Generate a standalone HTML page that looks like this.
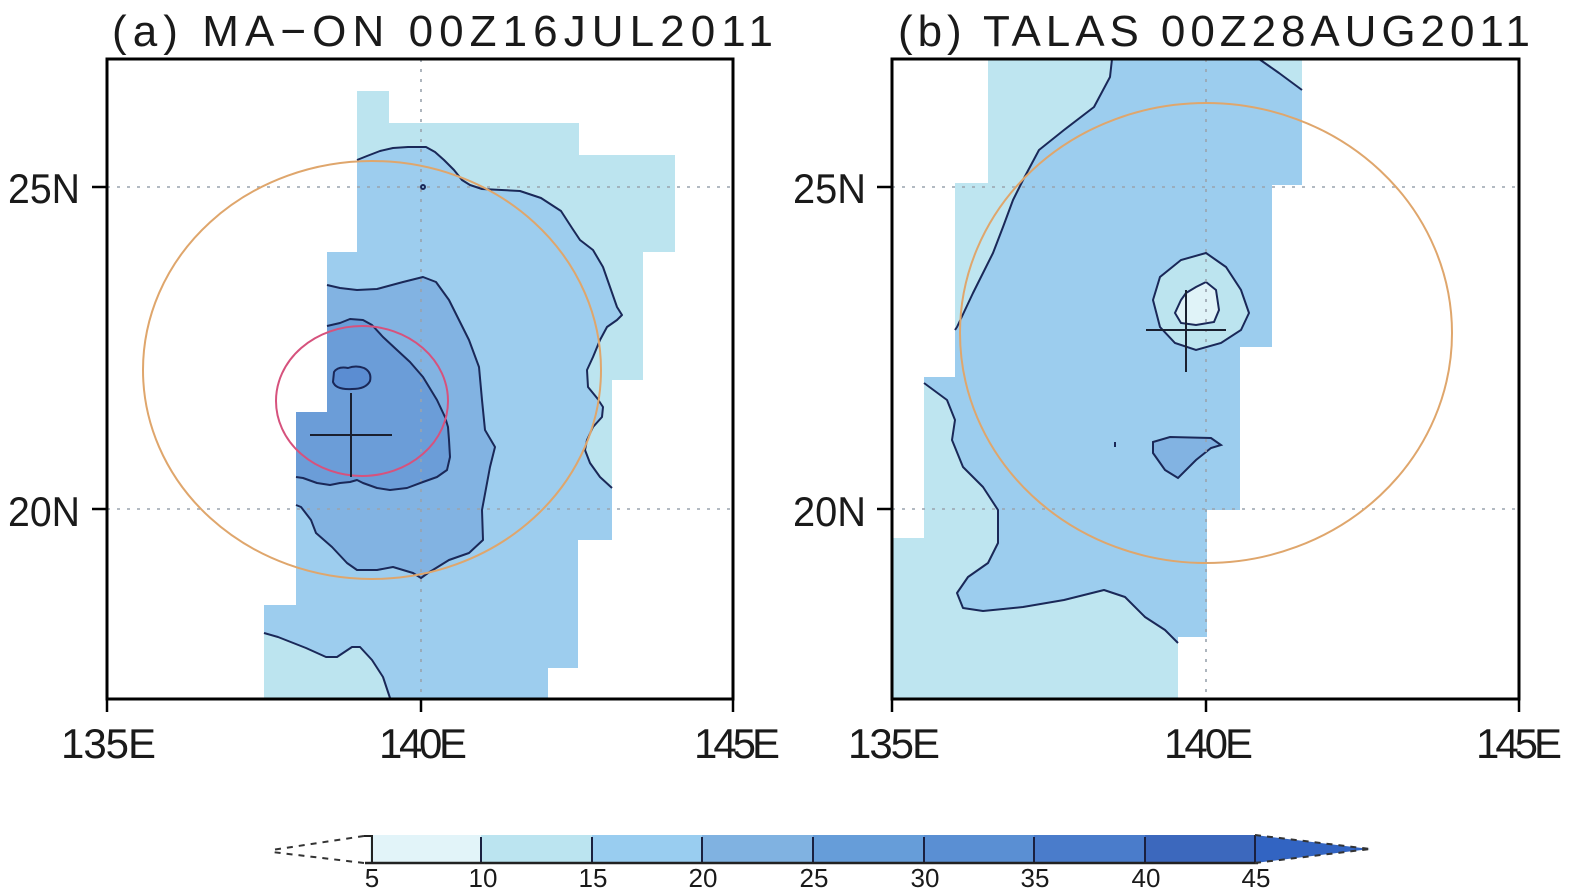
<!DOCTYPE html>
<html><head><meta charset="utf-8"><style>
html,body{margin:0;padding:0;background:#fff;}
svg{display:block;}
text{font-family:"Liberation Sans",sans-serif;fill:#1a1a1a;}
</style></head><body>
<svg width="1575" height="892" viewBox="0 0 1575 892" xmlns="http://www.w3.org/2000/svg">
<rect width="1575" height="892" fill="#fff"/>

<!-- ============ PANEL A ============ -->
<polygon fill="#bce4ef" points="357,91 389,91 389,123 579,123 579,155 675,155 675,252 643,252 643,380 612,380 612,540 578,540 578,668 548,668 548,699 264,699 264,605 296,605 296,412 327,412 327,252 357,252"/>
<path fill="#9dcdee" d="M357,160 L367,156 L380,151 L393,148 L408,147 L426,147 L435,152 L444,160 L454,170 L462,180 L470,185 L482,189 L520,191 L541,198 L561,211 L572,228 L580,240 L593,250 L603,267 L610,287 L617,307 L622,315 L617,320 L607,327 L600,340 L593,357 L587,370 L588,387 L597,398 L603,407 L602,417 L593,427 L587,440 L585,450 L590,463 L600,477 L612,488 L612,540 L578,540 L578,668 L548,668 L548,699 L390,699 L383,677 L372,660 L360,647 L352,647 L337,657 L326,657 L306,648 L278,637 L264,633 L264,605 L296,605 L296,412 L327,412 L327,252 L357,252 Z"/>
<path fill="#82b3e2" d="M327,285 L340,288 L357,290 L377,289 L403,282 L423,277 L436,282 L449,300 L459,320 L469,340 L479,367 L482,400 L485,430 L495,447 L490,467 L482,510 L483,540 L469,553 L449,560 L428,573 L421,578 L413,573 L393,567 L377,570 L357,570 L347,563 L332,547 L316,533 L311,520 L301,507 L296,505 L296,412 L327,412 Z"/>
<path fill="#6b9dd8" d="M327,326 L340,323 L350,319 L363,320 L372,325 L383,337 L397,350 L410,362 L423,377 L437,400 L445,417 L448,427 L449,440 L450,457 L447,470 L437,477 L423,482 L407,488 L390,490 L377,488 L363,483 L357,480 L350,482 L340,483 L330,485 L317,483 L303,478 L296,477 L296,412 L327,412 Z"/>
<path fill="#5b8dd2" stroke="#1a2858" stroke-width="2" d="M334,372 Q338,366 348,368 Q356,365 364,368 Q372,372 370,381 Q366,389 352,389 Q336,390 333,382 Z"/>

<g stroke="#9aa3ad" stroke-width="1.6" stroke-dasharray="3 7" fill="none">
<line x1="107" y1="187" x2="733" y2="187"/>
<line x1="107" y1="509" x2="733" y2="509"/>
<line x1="421" y1="59" x2="421" y2="699"/>
</g>

<g stroke="#1a2858" stroke-width="2" fill="none" stroke-linejoin="round">
<polyline points="357,160 367,156 380,151 393,148 408,147 426,147 435,152 444,160 454,170 462,180 470,185 482,189 520,191 541,198 561,211 572,228 580,240 593,250 603,267 610,287 617,307 622,315 617,320 607,327 600,340 593,357 587,370 588,387 597,398 603,407 602,417 593,427 587,440 585,450 590,463 600,477 612,488"/>
<polyline points="264,633 278,637 306,648 326,657 337,657 352,647 360,647 372,660 383,677 390,698"/>
<polyline points="327,285 340,288 357,290 377,289 403,282 423,277 436,282 449,300 459,320 469,340 479,367 482,400 485,430 495,447 490,467 482,510 483,540 469,553 449,560 428,573 421,578 413,573 393,567 377,570 357,570 347,563 332,547 316,533 311,520 301,507 296,505"/>
<polyline points="327,326 340,323 350,319 363,320 372,325 383,337 397,350 410,362 423,377 437,400 445,417 448,427 449,440 450,457 447,470 437,477 423,482 407,488 390,490 377,488 363,483 357,480 350,482 340,483 330,485 317,483 303,478 296,477"/>
<circle cx="423" cy="187" r="2"/>
</g>

<ellipse cx="372" cy="370" rx="229" ry="209" fill="none" stroke="#dfa66c" stroke-width="2"/>
<ellipse cx="362" cy="401" rx="86" ry="75" fill="none" stroke="#d6527d" stroke-width="2"/>
<g stroke="#1a2030" stroke-width="2">
<line x1="310" y1="435" x2="392" y2="435"/>
<line x1="351" y1="393" x2="351" y2="477"/>
</g>

<rect x="107" y="59" width="626" height="640" fill="none" stroke="#000" stroke-width="3"/>
<g stroke="#000" stroke-width="2.5">
<line x1="92" y1="187" x2="107" y2="187"/>
<line x1="92" y1="509" x2="107" y2="509"/>
<line x1="107" y1="699" x2="107" y2="712"/>
<line x1="421" y1="699" x2="421" y2="712"/>
<line x1="733" y1="699" x2="733" y2="712"/>
</g>
<text x="112" y="46" font-size="44" textLength="661" lengthAdjust="spacing">(a) MA−ON 00Z16JUL2011</text>
<text x="8" y="203" font-size="42" textLength="72" lengthAdjust="spacingAndGlyphs">25N</text>
<text x="8" y="526" font-size="42" textLength="72" lengthAdjust="spacingAndGlyphs">20N</text>
<text x="61" y="758" font-size="42" textLength="95" lengthAdjust="spacing">135E</text>
<text x="379" y="758" font-size="42" textLength="88" lengthAdjust="spacing">140E</text>
<text x="694" y="758" font-size="42" textLength="86" lengthAdjust="spacing">145E</text>

<!-- ============ PANEL B ============ -->
<polygon fill="#bee5f0" points="988,59 1302,59 1302,185 1272,185 1272,347 1240,347 1240,510 1207,510 1207,637 1178,637 1178,699 892,699 892,538 924,538 924,377 955,377 955,183 988,183"/>
<path fill="#9ccdee" d="M1112,59 L1110,77 L1094,107 L1064,130 L1039,150 L1023,180 L1013,200 L1003,227 L993,253 L973,293 L957,327 L955,330 L955,377 L924,377 L924,383 L947,400 L955,420 L952,440 L963,467 L983,487 L998,510 L998,543 L988,563 L968,577 L957,593 L963,608 L983,611 L1023,607 L1064,600 L1104,590 L1125,597 L1145,617 L1165,630 L1178,643 L1178,637 L1207,637 L1207,510 L1240,510 L1240,347 L1272,347 L1272,185 L1302,185 L1302,90 L1279,73 L1259,59 Z"/>
<path fill="#bce4ef" stroke="#1a2858" stroke-width="2" d="M1206,253 L1226,267 L1241,290 L1249,313 L1241,330 L1221,343 L1196,350 L1175,343 L1160,327 L1153,300 L1160,277 L1181,260 Z"/>
<path fill="#e0f3f8" stroke="#1a2858" stroke-width="2" d="M1206,282 L1216,290 L1219,310 L1214,322 L1196,325 L1181,323 L1175,313 L1181,300 L1186,293 L1196,287 Z"/>
<path fill="#82b3e2" stroke="#1a2858" stroke-width="2" d="M1153,442 L1170,437 L1211,438 L1221,445 L1211,448 L1196,460 L1178,478 L1165,470 L1153,453 Z"/>

<g stroke="#9aa3ad" stroke-width="1.6" stroke-dasharray="3 7" fill="none">
<line x1="892" y1="187" x2="1519" y2="187"/>
<line x1="892" y1="509" x2="1519" y2="509"/>
<line x1="1206" y1="59" x2="1206" y2="699"/>
</g>

<g stroke="#1a2858" stroke-width="2" fill="none" stroke-linejoin="round">
<polyline points="1112,59 1110,77 1094,107 1064,130 1039,150 1023,180 1013,200 1003,227 993,253 973,293 957,327 955,330"/>
<polyline points="924,383 947,400 955,420 952,440 963,467 983,487 998,510 998,543 988,563 968,577 957,593 963,608 983,611 1023,607 1064,600 1104,590 1125,597 1145,617 1165,630 1178,643"/>
<polyline points="1259,59 1279,73 1302,90"/>
<line x1="1115" y1="442" x2="1115" y2="447"/>
</g>

<ellipse cx="1206" cy="333" rx="246" ry="230" fill="none" stroke="#dfa66c" stroke-width="2"/>
<g stroke="#1a2030" stroke-width="2">
<line x1="1146" y1="330" x2="1226" y2="330"/>
<line x1="1186" y1="290" x2="1186" y2="372"/>
</g>

<rect x="892" y="59" width="627" height="640" fill="none" stroke="#000" stroke-width="3"/>
<g stroke="#000" stroke-width="2.5">
<line x1="877" y1="187" x2="892" y2="187"/>
<line x1="877" y1="509" x2="892" y2="509"/>
<line x1="892" y1="699" x2="892" y2="712"/>
<line x1="1206" y1="699" x2="1206" y2="712"/>
<line x1="1519" y1="699" x2="1519" y2="712"/>
</g>
<text x="898" y="46" font-size="44" textLength="632" lengthAdjust="spacing">(b) TALAS 00Z28AUG2011</text>
<text x="793" y="203" font-size="42" textLength="73" lengthAdjust="spacingAndGlyphs">25N</text>
<text x="793" y="526" font-size="42" textLength="73" lengthAdjust="spacingAndGlyphs">20N</text>
<text x="848" y="758" font-size="42" textLength="92" lengthAdjust="spacing">135E</text>
<text x="1164" y="758" font-size="42" textLength="89" lengthAdjust="spacing">140E</text>
<text x="1476" y="758" font-size="42" textLength="86" lengthAdjust="spacing">145E</text>

<!-- ============ COLORBAR ============ -->
<g>
<rect x="370" y="835" width="111" height="28" fill="#e2f4f9"/>
<rect x="481" y="835" width="111" height="28" fill="#bbe4f0"/>
<rect x="592" y="835" width="110" height="28" fill="#99cdf0"/>
<rect x="702" y="835" width="111" height="28" fill="#80b2e1"/>
<rect x="813" y="835" width="111" height="28" fill="#669dd9"/>
<rect x="924" y="835" width="110" height="28" fill="#5a8fd3"/>
<rect x="1034" y="835" width="111" height="28" fill="#4a7ccb"/>
<rect x="1145" y="835" width="110" height="28" fill="#3c68bd"/>
<polygon points="1255,835 1370,849 1255,863" fill="#3264c2"/>
</g>
<g stroke="#1a2040" stroke-width="2">
<line x1="481" y1="837" x2="481" y2="863"/>
<line x1="592" y1="837" x2="592" y2="863"/>
<line x1="702" y1="837" x2="702" y2="863"/>
<line x1="813" y1="837" x2="813" y2="863"/>
<line x1="924" y1="837" x2="924" y2="863"/>
<line x1="1034" y1="837" x2="1034" y2="863"/>
<line x1="1145" y1="837" x2="1145" y2="863"/>
<line x1="1255" y1="835" x2="1255" y2="863"/>
</g>
<line x1="365" y1="863" x2="1258" y2="863" stroke="#222" stroke-width="2.5"/>
<polyline points="364,836 372,836 372,863" fill="none" stroke="#222" stroke-width="2"/>
<g stroke="#333" stroke-width="2" stroke-dasharray="6 6" fill="none">
<line x1="364" y1="836" x2="272" y2="850"/>
<line x1="364" y1="863" x2="272" y2="852"/>
<line x1="1255" y1="835" x2="1370" y2="849"/>
<line x1="1255" y1="863" x2="1370" y2="849"/>
</g>
<g font-size="26" text-anchor="middle">
<text x="372" y="887">5</text>
<text x="483" y="887">10</text>
<text x="593" y="887">15</text>
<text x="703" y="887">20</text>
<text x="814" y="887">25</text>
<text x="925" y="887">30</text>
<text x="1035" y="887">35</text>
<text x="1146" y="887">40</text>
<text x="1256" y="887">45</text>
</g>
</svg>
</body></html>
